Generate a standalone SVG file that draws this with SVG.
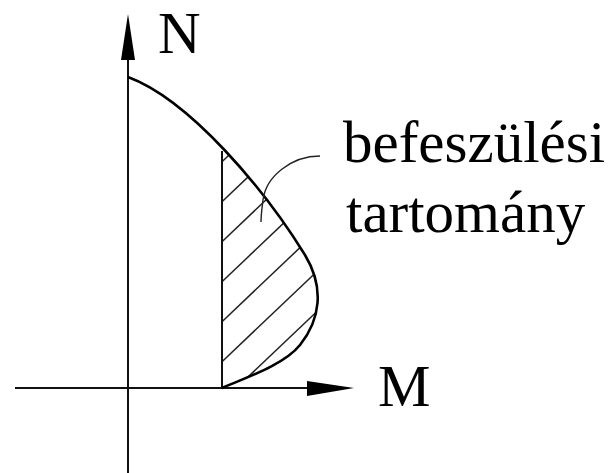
<svg xmlns="http://www.w3.org/2000/svg" width="613" height="473" viewBox="0 0 613 473">
<style>
.ax{stroke:#111;stroke-width:2;fill:none}
.cv{stroke:#000;stroke-width:2.6;fill:none}
.ht{stroke:#222;stroke-width:1.5;fill:none}
.ld{stroke:#222;stroke-width:1.4;fill:none}
.tx{font-family:"Liberation Serif","Times New Roman",serif;font-size:59px;fill:#000}
.ah{fill:#000}
</style>
<defs>
<clipPath id="area"><path d="M128,77 C190,100 265,190 305,255 C325,288 320,320 300,345 C284,365 245,378 222,388 L222,40 Z"/></clipPath>
</defs>
<rect width="613" height="473" fill="#fff"/>
<g id="connectors">
<line class="ax" x1="128" y1="58" x2="128" y2="473"/>
<polygon class="ah" points="128,14 121,60 135,60"/>
<line class="ax" x1="15" y1="388" x2="310" y2="388"/>
<polygon class="ah" points="354,388 307,381 307,396"/>
<g id="hatch" clip-path="url(#area)">
<line class="ht" x1="222" y1="161.7" x2="332" y2="57.2"/>
<line class="ht" x1="222" y1="201.7" x2="332" y2="97.2"/>
<line class="ht" x1="222" y1="241.7" x2="332" y2="137.2"/>
<line class="ht" x1="222" y1="281.7" x2="332" y2="177.2"/>
<line class="ht" x1="222" y1="321.7" x2="332" y2="217.2"/>
<line class="ht" x1="222" y1="361.7" x2="332" y2="257.2"/>
<line class="ht" x1="222" y1="401.7" x2="332" y2="297.2"/>
</g>
<line class="ax" x1="222" y1="151" x2="222" y2="388"/>
<path id="boundary" class="cv" d="M128,77 C190,100 265,190 305,255 C325,288 320,320 300,345 C284,365 245,378 222,388"/>
<path id="leader" class="ld" d="M320,156 C292,156 266,176 263,200 C262,208 261,215 261,222"/>
</g>
<g id="label-N"><text class="tx" x="158" y="53">N</text></g>
<g id="label-M"><text class="tx" x="378" y="406">M</text></g>
<g id="label-region">
<text class="tx" x="343" y="162">befeszülési</text>
<text class="tx" x="346" y="232">tartomány</text>
</g>
</svg>
